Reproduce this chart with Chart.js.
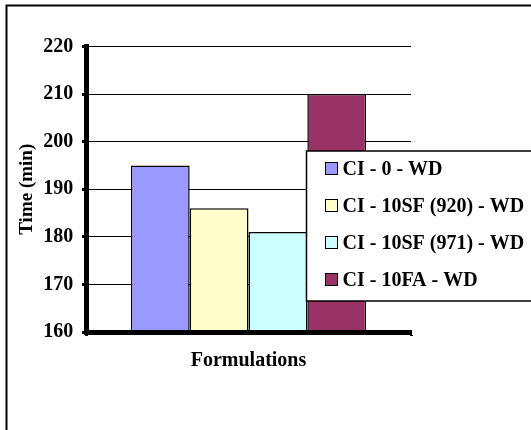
<!DOCTYPE html>
<html>
<head>
<meta charset="utf-8">
<script src="https://cdn.jsdelivr.net/npm/chart.js@4/dist/chart.umd.min.js"></script>
<style>
  html, body { margin: 0; padding: 0; background: #fff; }
  #wrap { width: 531px; height: 430px; }
</style>
</head>
<body>
<div id="wrap"><canvas id="c" width="531" height="430"></canvas></div>
<script>
// Setting-time data per formulation
const categories = ['Formulations'];
const seriesNames = ['CI - 0 - WD', 'CI - 10SF (920) - WD', 'CI - 10SF (971) - WD', 'CI - 10FA - WD'];
const seriesValues = [195, 186, 181, 210];
const seriesColors = ['#9999FF', '#FFFFCC', '#CCFFFF', '#993366'];
const yTicks = [160, 170, 180, 190, 200, 210, 220];

const serif = '"Liberation Serif"';

// Thin frame around the whole figure
const framePlugin = {
  id: 'frame',
  beforeDraw(chart) {
    const ctx = chart.ctx;
    ctx.save();
    ctx.fillStyle = '#fff';
    ctx.fillRect(0, 0, chart.width, chart.height);
    ctx.strokeStyle = '#000';
    ctx.lineWidth = 2;
    ctx.strokeRect(6.5, 5.5, 700, 700);
    ctx.restore();
  }
};

// Boxed legend overlapping the plot on the right
const boxLegend = {
  id: 'boxLegend',
  afterDraw(chart) {
    const ctx = chart.ctx;
    const left = 306.5, top = 151, height = 150;
    ctx.save();
    ctx.fillStyle = '#fff';
    ctx.fillRect(left, top, 300, height);
    ctx.strokeStyle = '#000';
    ctx.lineWidth = 1.5;
    ctx.strokeRect(left, top, 300, height);
    ctx.font = 'bold 20px ' + serif;
    ctx.textBaseline = 'middle';
    ctx.textAlign = 'left';
    chart.data.datasets.forEach((ds, i) => {
      const cy = Math.round(169 + i * 37.1);
      ctx.fillStyle = ds.backgroundColor;
      ctx.fillRect(325.5, cy - 6.5, 12, 12);
      ctx.lineWidth = 1;
      ctx.strokeStyle = '#000';
      ctx.strokeRect(325.5, cy - 6.5, 12, 12);
      ctx.fillStyle = '#000';
      ctx.fillText(ds.label, 342.5, cy + 1);
    });
    ctx.restore();
  }
};

const datasets = seriesNames.map((name, i) => ({
  label: name,
  data: [seriesValues[i]],
  backgroundColor: seriesColors[i],
  borderColor: '#000',
  borderWidth: 1.5,
  barPercentage: 1.0,
  categoryPercentage: 0.724
}));

new Chart(document.getElementById('c'), {
  type: 'bar',
  data: { labels: categories, datasets },
  options: {
    responsive: false,
    animation: false,
    devicePixelRatio: 1,
    layout: { padding: { top: 46.5, right: 120, bottom: 0, left: 0 } },
    plugins: {
      legend: { display: false },
      tooltip: { enabled: false }
    },
    scales: {
      x: {
        afterFit(scale) { scale.height = 98; },
        grid: {
          drawOnChartArea: false,
          drawTicks: true,
          tickLength: 4,
          tickWidth: 3,
          tickColor: '#000',
          color: '#000'
        },
        border: { display: true, color: '#000', width: 5, z: 1 },
        ticks: {
          color: '#000',
          padding: 12.6,
          font: { family: serif, size: 20, weight: 'bold' }
        }
      },
      y: {
        min: 160,
        max: 220,
        afterFit(scale) { scale.width = 86; },
        afterBuildTicks(scale) { scale.ticks = yTicks.map(v => ({ value: v })); },
        grid: {
          color: '#000',
          lineWidth: 1,
          drawTicks: true,
          tickLength: 4,
          tickWidth: 3,
          tickColor: '#000'
        },
        border: { display: true, color: '#000', width: 5, z: 1 },
        ticks: {
          color: '#000',
          padding: 8.7,
          font: { family: serif, size: 20, weight: 'bold' }
        },
        title: {
          display: true,
          text: 'Time (min)',
          color: '#000',
          padding: { top: 15.5, bottom: 0 },
          font: { family: serif, size: 19, weight: 'bold' }
        }
      }
    }
  },
  plugins: [framePlugin, boxLegend]
});
</script>
</body>
</html>
